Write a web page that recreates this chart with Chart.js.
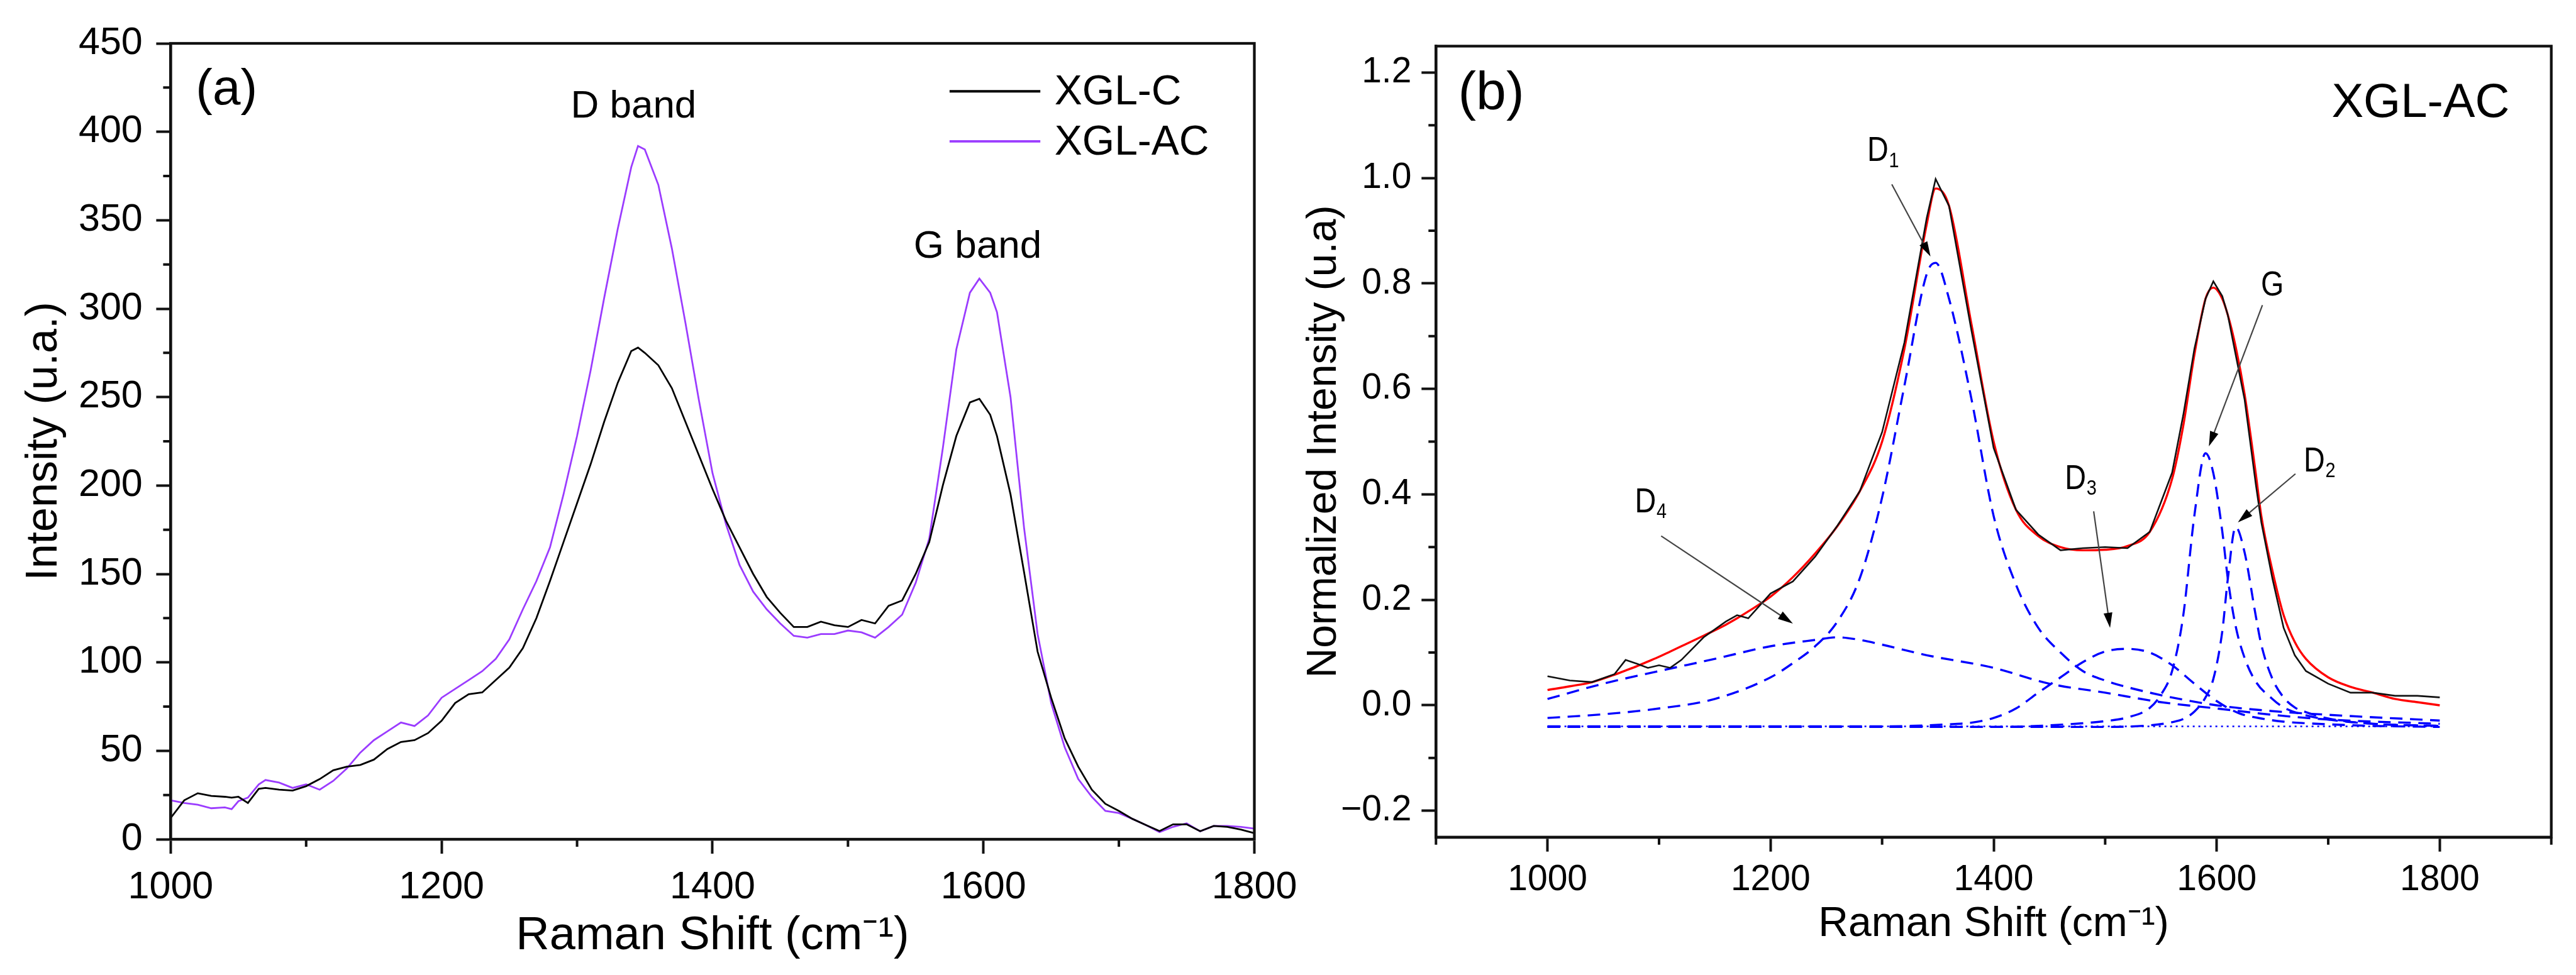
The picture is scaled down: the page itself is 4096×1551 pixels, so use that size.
<!DOCTYPE html>
<html>
<head>
<meta charset="utf-8">
<title>Raman spectra XGL-C / XGL-AC</title>
<script src="https://cdn.jsdelivr.net/npm/chart.js@4.4.1/dist/chart.umd.min.js"></script>
<style>
  html, body { margin: 0; padding: 0; background: #fff; }
  body { width: 4096px; height: 1551px; position: relative; overflow: hidden; }
  canvas { position: absolute; top: 0; }
  #chartA { left: 0; }
  #chartB { left: 2040px; }
</style>
</head>
<body>
<canvas id="chartA" width="2100" height="1551"></canvas>
<canvas id="chartB" width="2056" height="1551"></canvas>
<script>
// ---- (a) raw spectra ----
const shiftA = [1000,1010,1020,1030,1040,1045,1050,1057,1065,1070,1080,1090,1100,1110,1120,1130,1140,1150,1160,1170,
  1180,1190,1200,1210,1220,1230,1240,1250,1260,1270,1280,1290,1300,1310,1320,1330,1340,1345,1350,1360,
  1370,1380,1390,1400,1410,1420,1430,1440,1450,1460,1470,1480,1490,1500,1510,1520,1530,1540,1550,1560,
  1570,1580,1590,1597,1605,1610,1620,1630,1640,1650,1660,1670,1680,1690,1700,1710,1720,1730,1740,1750,
  1760,1770,1780,1790,1800];
const xglC = [12,22,26,24.5,24,23.5,24,20.5,28.5,29,28,27.5,30,34,39,41,42,45,51,55,
  56,60,67,77,82,83,90,97,108,125,146,168,190,212,236,258,276,278,275,268,
  255,236,217,198,180,165,150,137,128,120,120,123,121,120,124,122,132,135,150,168,
  200,228,247,249,240,228,195,151,106,80,57,41,28,20,16,11.5,8,4.6,8.4,8.4,
  4.5,7.5,7,5.5,3.4];
const xglAC = [22,20.5,19.5,17.5,18,17,21.5,23.5,31,33.5,32,29,31,28,33,40,49,56,61,66,
  64,70,80,85,90,95,102,113,130,146,165,195,228,265,306,345,380,392,390,370,
  334,292,248,207,178,155,140,130,122,115,114,116,116,118,117,114,120,127,145,170,
  221,277,309,317,309,298,250,176,116,77,52,34,24,16,14.8,11.5,8,4,7,9,
  4.5,7.5,7.5,7,6];
const xTicksA = [1000, 1200, 1400, 1600, 1800];
const xMinorA = [1100, 1300, 1500, 1700];
const yTicksA = [0, 50, 100, 150, 200, 250, 300, 350, 400, 450];
const yMinorA = [25, 75, 125, 175, 225, 275, 325, 375, 425];

// ---- (b) XGL-AC normalised + fit ----
const shiftB = [1000,1020,1040,1060,1070,1080,1090,1100,1110,1120,1140,1160,1170,1180,1200,1220,1240,1260,1280,1300,
  1320,1340,1348,1360,1380,1400,1420,1440,1460,1480,1500,1520,1540,1560,1570,1580,1590,1597,1605,1610,
  1617,1625,1635,1640,1650,1660,1670,1680,1700,1720,1740,1760,1780,1800];
const rawB = [.055,.047,.044,.059,.086,.079,.071,.076,.071,.086,.129,.159,.171,.165,.212,.235,.282,.341,.406,.518,
  .688,.924,.998,.947,.712,.488,.371,.324,.294,.298,.300,.298,.329,.441,.55,.676,.771,.804,.776,.74,
  .665,.58,.42,.347,.24,.147,.095,.065,.041,.024,.024,.018,.018,.015];
const fitB = [.029,.036,.044,.058,.066,.074,.083,.092,.102,.112,.132,.153,.165,.178,.206,.243,.288,.34,.406,.50,
  .676,.912,.98,.947,.724,.50,.371,.321,.30,.294,.295,.302,.329,.429,.53,.665,.771,.792,.771,.74,
  .68,.59,.44,.359,.255,.171,.12,.088,.053,.035,.024,.012,.006,0];
const d1X = [1000,1050,1100,1150,1200,1220,1240,1260,1280,1300,1320,1340,1348,1360,1380,1400,1420,1440,1460,1480,1500,1540,1600,1650,1700,1800];
const d1Y = [-.024,-.017,-.006,.012,.053,.08,.112,.159,.241,.394,.606,.818,.839,.771,.582,.359,.229,.147,.10,.065,.047,.024,0,-.011,-.018,-.029];
const d4X = [1000,1050,1100,1150,1200,1240,1260,1280,1300,1340,1400,1450,1500,1550,1600,1650,1700,1800];
const d4Y = [.012,.041,.065,.088,.112,.124,.129,.124,.115,.095,.071,.041,.024,.006,-.006,-.018,-.027,-.035];
const d3X = [1000,1300,1340,1360,1380,1400,1420,1440,1460,1480,1500,1520,1540,1560,1580,1600,1620,1640,1660,1680,1700,1740,1800];
const d3Y = [-.04,-.04,-.038,-.036,-.033,-.024,-.006,.024,.053,.082,.102,.107,.10,.076,.041,.008,-.015,-.025,-.031,-.034,-.036,-.039,-.041];
const gX = [1000,1400,1440,1480,1500,1520,1540,1550,1560,1570,1580,1590,1597,1605,1610,1617,1625,1635,1650,1660,1680,1700,1740,1800];
const gY = [-.041,-.041,-.039,-.034,-.03,-.023,-.005,.02,.065,.17,.36,.478,.44,.33,.24,.15,.09,.045,.012,-.004,-.019,-.027,-.035,-.039];
const d2X = [1000,1500,1540,1560,1570,1580,1590,1597,1605,1610,1617,1625,1635,1640,1650,1660,1670,1680,1700,1740,1800];
const d2Y = [-.041,-.041,-.038,-.032,-.026,-.012,.015,.05,.14,.24,.338,.29,.17,.115,.05,.015,-.004,-.013,-.025,-.035,-.039];
const baseX = [1000, 1800];
const baseY = [-.04, -.04];
const xTicksB = [1000, 1200, 1400, 1600, 1800];
const xMinorB = [900, 1100, 1300, 1500, 1700, 1900];
const yTicksB = [-0.2, 0, 0.2, 0.4, 0.6, 0.8, 1.0, 1.2];
const yMinorB = [-0.1, 0.1, 0.3, 0.5, 0.7, 0.9, 1.1];

const FONT = "'Liberation Sans', Arial, sans-serif";
const NARROW = "'Liberation Sans Narrow', 'Arial Narrow', 'Liberation Sans', sans-serif";
const PURPLE = '#9b3cff';
const BLUE = '#0000ff';

function pts(xs, ys) {
  return xs.map((x, i) => ({ x: x, y: ys[i] }));
}

// frame round the plot + the short minor ticks
function framePlugin(minorX, minorY) {
  return {
    id: 'frame',
    afterDraw(chart) {
      const { ctx, chartArea: a, scales } = chart;
      ctx.save();
      ctx.strokeStyle = '#111';
      ctx.lineWidth = 4.3;
      ctx.strokeRect(a.left, a.top, a.right - a.left, a.bottom - a.top);
      ctx.lineWidth = 4;
      ctx.beginPath();
      minorX.forEach(v => {
        const px = scales.x.getPixelForValue(v);
        ctx.moveTo(px, a.bottom);
        ctx.lineTo(px, a.bottom + 12);
      });
      minorY.forEach(v => {
        const py = scales.y.getPixelForValue(v);
        ctx.moveTo(a.left, py);
        ctx.lineTo(a.left - 12, py);
      });
      ctx.stroke();
      ctx.restore();
    }
  };
}

// labels, arrows and legend placed in data coordinates
function notesPlugin(cfg) {
  return {
    id: 'notes',
    afterDatasetsDraw(chart) {
      const { ctx, scales: { x, y } } = chart;
      ctx.save();
      ctx.fillStyle = '#000';
      ctx.textBaseline = 'middle';
      (cfg.texts || []).forEach(t => {
        const px = x.getPixelForValue(t.x), py = y.getPixelForValue(t.y);
        const sx = t.squeeze || 1;
        ctx.save();
        ctx.translate(px, py);
        ctx.scale(sx, 1);
        ctx.font = t.font;
        ctx.textAlign = t.align;
        ctx.fillText(t.text, 0, 0);
        if (t.sub) {
          const w = ctx.measureText(t.text).width;
          ctx.font = cfg.subFont;
          ctx.textAlign = 'left';
          ctx.fillText(t.sub, w + 1, 15);
        }
        ctx.restore();
      });
      (cfg.arrows || []).forEach(a => {
        const x0 = x.getPixelForValue(a[0]), y0 = y.getPixelForValue(a[1]);
        const x1 = x.getPixelForValue(a[2]), y1 = y.getPixelForValue(a[3]);
        const ang = Math.atan2(y1 - y0, x1 - x0);
        const c = Math.cos(ang), s = Math.sin(ang);
        ctx.strokeStyle = '#444';
        ctx.lineWidth = 2.2;
        ctx.beginPath();
        ctx.moveTo(x0, y0);
        ctx.lineTo(x1 - 18 * c, y1 - 18 * s);
        ctx.stroke();
        ctx.beginPath();
        ctx.moveTo(x1, y1);
        ctx.lineTo(x1 - 24 * c - 7 * s, y1 - 24 * s + 7 * c);
        ctx.lineTo(x1 - 24 * c + 7 * s, y1 - 24 * s - 7 * c);
        ctx.closePath();
        ctx.fill();
      });
      if (cfg.legend) {
        const L = cfg.legend;
        L.rows.forEach((yv, i) => {
          const ds = chart.data.datasets[i];
          const py = y.getPixelForValue(yv);
          ctx.strokeStyle = ds.borderColor;
          ctx.lineWidth = 3.8;
          ctx.beginPath();
          ctx.moveTo(x.getPixelForValue(L.x0), py);
          ctx.lineTo(x.getPixelForValue(L.x1), py);
          ctx.stroke();
          ctx.font = L.font;
          ctx.textAlign = 'left';
          ctx.fillText(ds.label, x.getPixelForValue(L.textX), py + 3);
        });
      }
      ctx.restore();
    }
  };
}

function axis(o) {
  return {
    type: 'linear',
    min: o.min,
    max: o.max,
    afterBuildTicks: s => { s.ticks = o.ticks.map(v => ({ value: v })); },
    afterFit: s => { if (o.width) s.width = o.width; if (o.height) s.height = o.height; },
    ticks: {
      autoSkip: false,
      maxRotation: 0,
      color: '#000',
      padding: o.pad,
      font: { family: o.tickFont, size: o.tickSize, lineHeight: 1 },
      callback: o.fmt
    },
    grid: { drawOnChartArea: false, drawTicks: true, tickLength: 23, tickWidth: 4, tickColor: '#111' },
    border: { display: true, color: '#111', width: 4.3 },
    title: {
      display: true,
      text: o.title,
      color: '#000',
      font: { family: FONT, size: o.titleSize },
      padding: o.titlePad
    }
  };
}

const baseOptions = {
  responsive: false,
  animation: false,
  devicePixelRatio: 1,
  elements: { point: { radius: 0 }, line: { fill: false } },
  plugins: { legend: { display: false }, tooltip: { enabled: false } }
};

new Chart(document.getElementById('chartA'), {
  type: 'line',
  data: {
    datasets: [
      { label: 'XGL-C', data: pts(shiftA, xglC), borderColor: '#000', borderWidth: 2.8, tension: 0 },
      { label: 'XGL-AC', data: pts(shiftA, xglAC), borderColor: PURPLE, borderWidth: 2.8, tension: 0 }
    ]
  },
  options: Object.assign({}, baseOptions, {
    layout: { padding: { left: 0, top: 69, right: 105.5, bottom: 0 } },
    scales: {
      x: axis({ min: 1000, max: 1800, ticks: xTicksA, height: 216, pad: 23.5, tickFont: FONT, tickSize: 61,
        fmt: v => String(v), title: 'Raman Shift (cm\u207B\u00B9)', titleSize: 74, titlePad: { top: 0, bottom: 16.6 } }),
      y: axis({ min: 0, max: 450, ticks: yTicksA, width: 271.4, pad: 21.6, tickFont: FONT, tickSize: 61,
        fmt: v => String(v), title: 'Intensity (u.a.)', titleSize: 70, titlePad: { top: 29, bottom: 0 } })
    }
  }),
  plugins: [
    framePlugin(xMinorA, yMinorA),
    notesPlugin({
      texts: [
        { text: '(a)', x: 1018.5, y: 423.4, align: 'left', font: '80px ' + FONT },
        { text: 'D band', x: 1341.7, y: 414, align: 'center', font: '62px ' + FONT },
        { text: 'G band', x: 1595.7, y: 334.8, align: 'center', font: '62px ' + FONT }
      ],
      legend: { rows: [422.9, 394.6], x0: 1575, x1: 1642, textX: 1652.5, font: '66px ' + FONT }
    })
  ]
});

const dashed = { borderColor: BLUE, borderWidth: 3.4, borderDash: [20, 12], cubicInterpolationMode: 'monotone' };

new Chart(document.getElementById('chartB'), {
  type: 'line',
  data: {
    datasets: [
      { label: 'XGL-AC', data: pts(shiftB, rawB), borderColor: '#111', borderWidth: 2.6, tension: 0 },
      { label: 'Fit', data: pts(shiftB, fitB), borderColor: '#ff0000', borderWidth: 3.4, cubicInterpolationMode: 'monotone' },
      Object.assign({ label: 'D1', data: pts(d1X, d1Y) }, dashed),
      Object.assign({ label: 'D4', data: pts(d4X, d4Y) }, dashed),
      Object.assign({ label: 'D3', data: pts(d3X, d3Y) }, dashed),
      Object.assign({ label: 'G', data: pts(gX, gY) }, dashed),
      Object.assign({ label: 'D2', data: pts(d2X, d2Y) }, dashed),
      { label: 'Baseline', data: pts(baseX, baseY), borderColor: BLUE, borderWidth: 2.4, borderDash: [3, 6], tension: 0 }
    ]
  },
  options: Object.assign({}, baseOptions, {
    layout: { padding: { left: 0, top: 73.4, right: 39.3, bottom: 0 } },
    scales: {
      x: axis({ min: 900, max: 1900, ticks: xTicksB, height: 219.3, pad: 17.5, tickFont: NARROW, tickSize: 57,
        fmt: v => String(v), title: 'Raman Shift (cm\u207B\u00B9)', titleSize: 66, titlePad: { top: 0, bottom: 40.4 } }),
      y: axis({ min: -0.25, max: 1.25, ticks: yTicksB, width: 243.3, pad: 15.9, tickFont: NARROW, tickSize: 57,
        fmt: v => v.toFixed(1).replace('-', '\u2212'), title: 'Normalized Intensity (u.a)', titleSize: 66,
        titlePad: { top: 26.2, bottom: 0 } })
    }
  }),
  plugins: [
    framePlugin(xMinorB, yMinorB),
    notesPlugin({
      subFont: '34px ' + NARROW,
      texts: [
        { text: '(b)', x: 919.8, y: 1.158, align: 'left', font: '86px ' + FONT },
        { text: 'XGL-AC', x: 1862.6, y: 1.141, align: 'right', font: '76px ' + FONT },
        { text: 'D', sub: '1', x: 1286.6, y: 1.05, align: 'left', font: '55px ' + NARROW, squeeze: 0.85 },
        { text: 'G', x: 1639.6, y: 0.795, align: 'left', font: '55px ' + NARROW, squeeze: 0.85 },
        { text: 'D', sub: '2', x: 1678, y: 0.462, align: 'left', font: '55px ' + NARROW, squeeze: 0.85 },
        { text: 'D', sub: '3', x: 1463.8, y: 0.428, align: 'left', font: '55px ' + NARROW, squeeze: 0.85 },
        { text: 'D', sub: '4', x: 1078.3, y: 0.384, align: 'left', font: '55px ' + NARROW, squeeze: 0.85 }
      ],
      arrows: [
        [1308.7, 0.988, 1343.4, 0.851],
        [1641, 0.759, 1593, 0.491],
        [1670.6, 0.439, 1619, 0.347],
        [1489.7, 0.368, 1504.4, 0.147],
        [1101.9, 0.321, 1220, 0.155]
      ]
    })
  ]
});
</script>
</body>
</html>
